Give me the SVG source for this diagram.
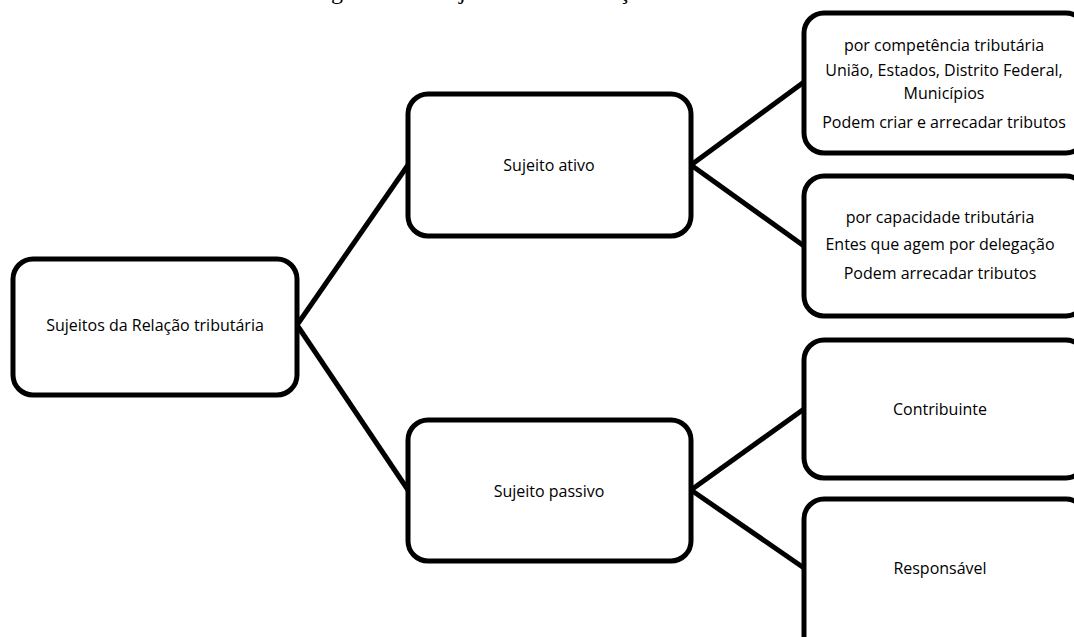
<svg xmlns="http://www.w3.org/2000/svg" width="1074" height="637" viewBox="0 0 1074 637">
<style>
.box{fill:#fff;stroke:#000;stroke-width:5}
.t{font-family:"Open Sans","Liberation Sans",Arial,sans-serif;font-size:16px;fill:#000;text-anchor:middle}
.c{stroke:#000;stroke-width:5;fill:none}
.title{font-family:"Liberation Serif","Times New Roman",serif;font-size:24px;fill:#000}
</style>
<rect width="1074" height="637" fill="#fff"/>
<text class="title" y="-1"><tspan x="312">Fi</tspan><tspan x="331">gura 1 – Su</tspan><tspan x="459">jeitos da Rela</tspan><tspan x="619">ção tributária</tspan></text>
<g id="connectors">
<line class="c" x1="297" y1="325" x2="408" y2="165"/>
<line class="c" x1="297" y1="325" x2="408" y2="490"/>
<line class="c" x1="691" y1="165" x2="804" y2="82"/>
<line class="c" x1="691" y1="165" x2="804" y2="246"/>
<line class="c" x1="691" y1="490" x2="804" y2="409"/>
<line class="c" x1="691" y1="490" x2="804" y2="568"/>
</g>
<g id="root"><rect class="box" x="13" y="259" width="284" height="136" rx="20"/>
<text class="t" x="155" y="331">Sujeitos da Relação tributária</text></g>
<g id="ativo"><rect class="box" x="408" y="94" width="283" height="142" rx="20"/>
<text class="t" x="549" y="171">Sujeito ativo</text></g>
<g id="passivo"><rect class="box" x="408" y="420" width="283" height="141" rx="20"/>
<text class="t" x="549" y="497">Sujeito passivo</text></g>
<g id="competencia"><rect class="box" x="804" y="13" width="282" height="140" rx="20"/>
<text class="t" x="944" y="51">por competência tributária</text>
<text class="t" x="944" y="76">União, Estados, Distrito Federal,</text>
<text class="t" x="944" y="99">Municípios</text>
<text class="t" x="944" y="128">Podem criar e arrecadar tributos</text></g>
<g id="capacidade"><rect class="box" x="804" y="176" width="282" height="140" rx="20"/>
<text class="t" x="940" y="223">por capacidade tributária</text>
<text class="t" x="940" y="250">Entes que agem por delegação</text>
<text class="t" x="940" y="279">Podem arrecadar tributos</text></g>
<g id="contribuinte"><rect class="box" x="804" y="340" width="282" height="138" rx="20"/>
<text class="t" x="940" y="415">Contribuinte</text></g>
<g id="responsavel"><rect class="box" x="804" y="499" width="282" height="160" rx="20"/>
<text class="t" x="940" y="574">Responsável</text></g>
</svg>
